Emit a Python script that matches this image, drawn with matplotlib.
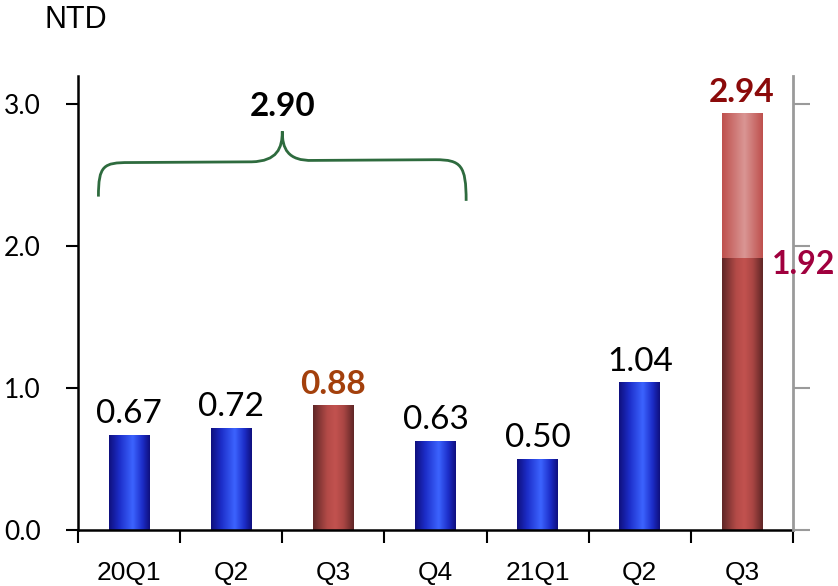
import numpy as np
import matplotlib
matplotlib.use("Agg")
import matplotlib.pyplot as plt
from matplotlib.path import Path
from matplotlib.patches import PathPatch

# ---- data ----
categories = ["20Q1", "Q2", "Q3", "Q4", "21Q1", "Q2", "Q3"]
base_values = [0.67, 0.72, 0.88, 0.63, 0.50, 1.04, 1.92]
top_values = [0, 0, 0, 0, 0, 0, 1.02]          # stacked upper segment (2.94 - 1.92)
bar_styles = ["blue", "blue", "red", "blue", "blue", "blue", "red"]
value_labels = ["0.67", "0.72", "0.88", "0.63", "0.50", "1.04", "2.94"]
label_colors = ["black", "black", "#A3400C", "black", "black", "black", "#8B0A0A"]
label_bold = [False, False, True, False, False, False, True]
inner_label = "1.92"
group_total = "2.90"
y_ticks = [0.0, 1.0, 2.0, 3.0]
y_unit = "NTD"

# ---- gradients ----
def make_grad(stops, n=200):
    t = np.linspace(0, 1, n)
    pos = [s[0] for s in stops]
    arr = np.zeros((1, n, 3))
    for c in range(3):
        arr[0, :, c] = np.interp(t, pos, [s[1][c] / 255 for s in stops])
    return arr

grads = {
    "blue": make_grad([(0, (15, 15, 125)), (0.25, (28, 45, 200)), (0.58, (60, 100, 255)),
                       (0.82, (28, 45, 200)), (1, (15, 15, 125))]),
    "red": make_grad([(0, (95, 38, 38)), (0.35, (180, 75, 72)), (0.55, (194, 82, 79)),
                      (0.75, (170, 70, 68)), (1, (95, 38, 38))]),
    "pink": make_grad([(0, (190, 80, 77)), (0.55, (218, 150, 148)), (1, (190, 80, 77))]),
}

fig = plt.figure(figsize=(8.38, 5.86), dpi=100)
ax = fig.add_axes([78 / 838, 56 / 586, 715 / 838, 454 / 586])

x = np.arange(len(categories)) + 0.5
width = 0.40

def grad_bars(xs, heights, bottoms, keys):
    bars = ax.bar(xs, heights, width, bottom=bottoms, facecolor="none", edgecolor="none", zorder=2)
    for b, k in zip(bars, keys):
        if b.get_height() <= 0:
            continue
        x0, y0 = b.get_x(), b.get_y()
        im = ax.imshow(grads[k], extent=[x0, x0 + b.get_width(), y0, y0 + b.get_height()],
                       aspect="auto", interpolation="bicubic", zorder=2)
        im.set_clip_path(b)

grad_bars(x, base_values, [0] * len(x), bar_styles)
grad_bars(x, top_values, base_values, ["pink"] * len(x))

# value labels
for xi, bv, tv, lab, col, bold in zip(x, base_values, top_values, value_labels, label_colors, label_bold):
    ax.text(xi, bv + tv + 0.04, lab, ha="center", va="bottom", fontsize=24,
            family="Lato", color=col, fontweight="bold" if bold else "normal")

# brace over first four quarters
xl, xr, xm = 0.2, 3.8, 2.0
yb, yh, yc = 2.35, 2.59, 2.81
r = 0.3
verts = [
    (xl, yb), (xl, yh - 0.02), (xl + 0.05, yh), (xl + r, yh),
    (xm - 0.3, yh + 0.005),
    (xm - 0.05, yh + 0.01), (xm, yh + 0.1), (xm, yc),
    (xm, yh + 0.1), (xm + 0.05, yh + 0.01), (xm + 0.3, yh + 0.015),
    (xr - r, yh + 0.02),
    (xr - 0.05, yh + 0.02), (xr, yh - 0.02), (xr, yb - 0.03),
]
codes = [Path.MOVETO, Path.CURVE4, Path.CURVE4, Path.CURVE4,
         Path.LINETO,
         Path.CURVE4, Path.CURVE4, Path.CURVE4,
         Path.CURVE4, Path.CURVE4, Path.CURVE4,
         Path.LINETO,
         Path.CURVE4, Path.CURVE4, Path.CURVE4]
ax.add_patch(PathPatch(Path(verts, codes), facecolor="none", edgecolor="#2E6B3E", lw=2, zorder=3))
ax.text(xm, 2.88, group_total, ha="center", va="bottom", fontsize=24, family="Lato",
        fontweight="bold", color="black")

# axes styling
ax.set_xlim(0, len(categories))
ax.set_ylim(0, 3.2)
ax.set_xticks(x)
ax.set_xticklabels(categories, family="Liberation Sans", fontsize=19)
ax.set_xticks(np.arange(len(categories) + 1), minor=True)
ax.tick_params(axis="x", which="major", length=0, pad=22)
ax.tick_params(axis="x", which="minor", length=9, width=1.5, direction="out", color="black")
ax.set_yticks(y_ticks)
ax.set_yticklabels([f"{v:.1f}" for v in y_ticks], family="Lato", fontsize=19)
ax.tick_params(axis="y", length=9, width=1.5, direction="out", pad=18)
for s in ["top", "right"]:
    ax.spines[s].set_visible(False)
ax.spines["left"].set_linewidth(1.8)
ax.spines["bottom"].set_linewidth(1.8)

ax2 = ax.twinx()
ax2.set_ylim(0, 3.2)
ax2.set_yticks(y_ticks)
ax2.set_yticklabels([])
for s in ["top", "left", "bottom"]:
    ax2.spines[s].set_visible(False)
ax2.spines["right"].set_color("#9A9A9A")
ax2.spines["right"].set_linewidth(2)
ax2.tick_params(axis="y", length=12, width=1.5, color="#9A9A9A", direction="out")

# inner label of the stacked bar, drawn over the gray right axis
ax2.text(x[-1] + 0.29, base_values[-1] - 0.05, inner_label, ha="left", va="center",
         fontsize=23, family="Lato", color="#A0003E", fontweight="bold", clip_on=False,
         zorder=5)

fig.text(76 / 838, 1 - 20 / 586, y_unit, ha="center", va="center", fontsize=22,
         family="Liberation Sans")

fig.savefig("out.png", dpi=100)
